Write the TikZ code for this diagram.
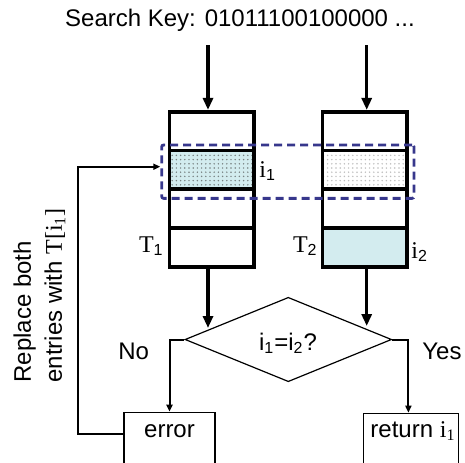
\documentclass[tikz,border=0pt]{standalone}
\usepackage{fontspec}
\setmainfont{Liberation Sans}
\newfontfamily\serifrm{Liberation Serif}
\usetikzlibrary{shapes.geometric,arrows.meta,patterns}
\pgfdeclarepatternformonly{finedots}{\pgfqpoint{-0.6pt}{-0.6pt}}{\pgfqpoint{0.6pt}{0.6pt}}{\pgfqpoint{2.1pt}{2.1pt}}{\pgfpathcircle{\pgfqpoint{0pt}{0pt}}{0.42pt}\pgfusepath{fill}}
\definecolor{lcyan}{RGB}{211,236,239}
\definecolor{selnavy}{RGB}{55,55,140}
\definecolor{dotdark}{RGB}{120,130,130}
\definecolor{dotlight}{RGB}{190,190,190}
\begin{document}
\begin{tikzpicture}[x=0.5pt,y=-0.5pt, font=\fontsize{12}{15.5}\selectfont,
 cell/.style={draw, rectangle, minimum width=42.3pt, minimum height=19.4pt, inner sep=0pt, line width=1.8pt},
 bigarrow/.style={line width=1.6pt, -{Triangle[length=6pt,width=5pt]}},
 midarrow/.style={line width=1pt, -{Triangle[length=3.5pt,width=3pt]}},
 thinbox/.style={draw, rectangle, line width=0.6pt, inner sep=0pt},
 lbl/.style={inner sep=0pt}]
\useasboundingbox (0,0) rectangle (465,462);
\clip (0,0) rectangle (465,462);

% title
\node[lbl, anchor=base] (title) at (240,26) {Search Key: 01011100100000 ...};

% table T1
\node[cell] (a1) at (211.7,131.1) {};
\node[cell, preaction={fill=lcyan}, pattern=finedots, pattern color=dotdark] (a2) at (211.7,169.8) {};
\node[cell] (a3) at (211.7,208.6) {};
\node[cell] (a4) at (211.7,247.3) {};
% table T2
\node[cell] (b1) at (364.7,131.1) {};
\node[cell, preaction={fill=white}, pattern=finedots, pattern color=dotlight] (b2) at (364.7,169.8) {};
\node[cell] (b3) at (364.7,208.6) {};
\node[cell, fill=lcyan] (b4) at (364.7,247.3) {};

% selection
\node[draw=selnavy, dash pattern=on 4pt off 2.5pt, line width=1.4pt, rectangle, rounded corners=1pt, minimum width=126.2pt, minimum height=26.7pt, inner sep=0pt] (sel) at (287.85,171.65) {};

% labels
\node[lbl, anchor=base west] (li1) at (259,177) {{\serifrm i}\textsubscript{1}};
\node[lbl, anchor=base east] (lt1) at (164,252) {{\serifrm T}\textsubscript{1}};
\node[lbl, anchor=base east] (lt2) at (318,252) {{\serifrm T}\textsubscript{2}};
\node[lbl, anchor=base west] (li2) at (411,258) {{\serifrm i}\textsubscript{2}};

% key arrows
\coordinate (k1) at (208,45);
\coordinate (k2) at (366.7,45);
\draw[bigarrow] (k1) -- (k1 |- a1.north);
\draw[bigarrow] (k2) -- (k2 |- b1.north);

% decision
\node[diamond, draw, line width=0.6pt, minimum width=103.3pt, minimum height=42.2pt, inner sep=0pt] (dia) at (288.3,339.5) {};
\node[lbl, anchor=base] (dq) at (288,350) {i\textsubscript{1}=i\textsubscript{2}?};
\coordinate (d1) at (208,328);
\coordinate (d2) at (366.7,326);
\draw[bigarrow] (a4.south -| k1) -- (d1);
\draw[bigarrow] (b4.south -| k2) -- (d2);

% outcome boxes
\node[thinbox, minimum width=45.5pt, minimum height=32pt, anchor=north] (err) at (169.5,411.7) {};
\node[lbl, anchor=base] (errt) at (169.5,437) {error};
\node[thinbox, minimum width=47.5pt, minimum height=32pt, anchor=north] (ret) at (410.8,412.7) {};
\node[lbl, anchor=base] (rett) at (413,437) {return {\serifrm i\textsubscript{1}}};

\draw[midarrow] (dia.west) -| (err.north);
\draw[midarrow] (dia.east) -| ([xshift=-1.2pt]ret.north);
\node[lbl, anchor=base west] (no) at (118,359) {No};
\node[lbl, anchor=base west] (yes) at (422,359) {Yes};

% feedback
\coordinate (fb) at (78.3,166.7);
\draw[midarrow] ([yshift=5.2pt]err.west) -| (fb) -- (fb -| sel.west);
\node[lbl, rotate=90, align=left, anchor=north west] (rep) at (13,383) {Replace both\\entries with {\serifrm T[i\textsubscript{1}]}};
\end{tikzpicture}
\end{document}
